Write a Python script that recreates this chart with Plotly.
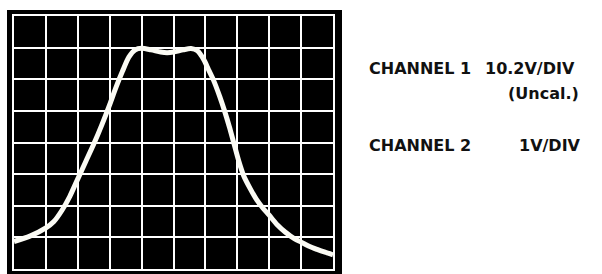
import plotly.graph_objects as go

# Trace (grid divisions: x 0..10, y 0..8)
sweep_div = [0, 0.5, 1.0, 1.25, 1.5, 1.75, 2.0, 2.25, 2.5, 2.75, 3.0, 3.2,
             3.4, 3.6, 3.8, 4.0, 4.3, 4.6, 4.8, 5.0, 5.3, 5.55, 5.75, 5.95,
             6.1, 6.25, 6.45, 6.6, 6.75, 6.9, 7.05, 7.2, 7.4, 7.6, 7.8, 8.0,
             8.25, 8.5, 8.8, 9.0, 9.25, 9.5, 9.75, 10.0]
amplitude_div = [0.87, 1.04, 1.3, 1.5, 1.85, 2.3, 2.85, 3.4, 3.95, 4.55, 5.2,
                 5.75, 6.25, 6.7, 6.93, 6.98, 6.93, 6.86, 6.84, 6.86, 6.93,
                 6.97, 6.9, 6.62, 6.3, 5.98, 5.45, 5.0, 4.5, 3.95, 3.4, 2.95,
                 2.55, 2.2, 1.93, 1.7, 1.4, 1.17, 0.95, 0.85, 0.72, 0.62, 0.53,
                 0.45]
grid_x = list(range(0, 11))
grid_y = list(range(0, 9))

W, H = 602, 274
L, R, T, B = 14, 333, 16, 269  # grid area in pixels


def px(x):
    return (x - L) / (R - L)


def py(y):
    return (B - y) / (B - T)


fig = go.Figure()
fig.add_trace(go.Scatter(
    x=sweep_div, y=amplitude_div, mode="lines",
    line=dict(color="#fbfbf4", width=5, shape="spline", smoothing=0.8),
    hoverinfo="skip", showlegend=False,
))

font = dict(family="DejaVu Sans, Verdana, sans-serif", size=16, color="#111111")
labels = [
    ("CHANNEL 1", 367, 68, "left"),
    ("10.2V/DIV", 483, 68, "left"),
    ("(Uncal.)", 543, 93, "center"),
    ("CHANNEL 2", 367, 146, "left"),
    ("1V/DIV", 517, 146, "left"),
]
annotations = []
for text, x, y, anchor in labels:
    annotations.append(dict(
        text="<b>" + text + "</b>", x=px(x), y=py(y), xref="paper", yref="paper",
        xanchor=anchor, yanchor="middle", showarrow=False, font=font,
    ))

fig.update_layout(
    width=W, height=H,
    margin=dict(l=L, r=W - R, t=T, b=H - B, autoexpand=False),
    paper_bgcolor="white", plot_bgcolor="black",
    annotations=annotations,
    shapes=[dict(type="rect", xref="paper", yref="paper", layer="below",
                 x0=px(7), x1=px(342), y0=py(275), y1=py(10),
                 fillcolor="black", line=dict(width=0))],
    xaxis=dict(range=[0, 10], tickvals=grid_x, showticklabels=False, ticks="",
               showgrid=True, gridcolor="white", gridwidth=2, zeroline=False,
               showline=True, mirror=True, linecolor="white", linewidth=2),
    yaxis=dict(range=[0, 8], tickvals=grid_y, showticklabels=False, ticks="",
               showgrid=True, gridcolor="white", gridwidth=2, zeroline=False,
               showline=True, mirror=True, linecolor="white", linewidth=2),
)

fig.write_html("out.html", config={"displayModeBar": False},
               post_script="document.body.style.margin='0';")
